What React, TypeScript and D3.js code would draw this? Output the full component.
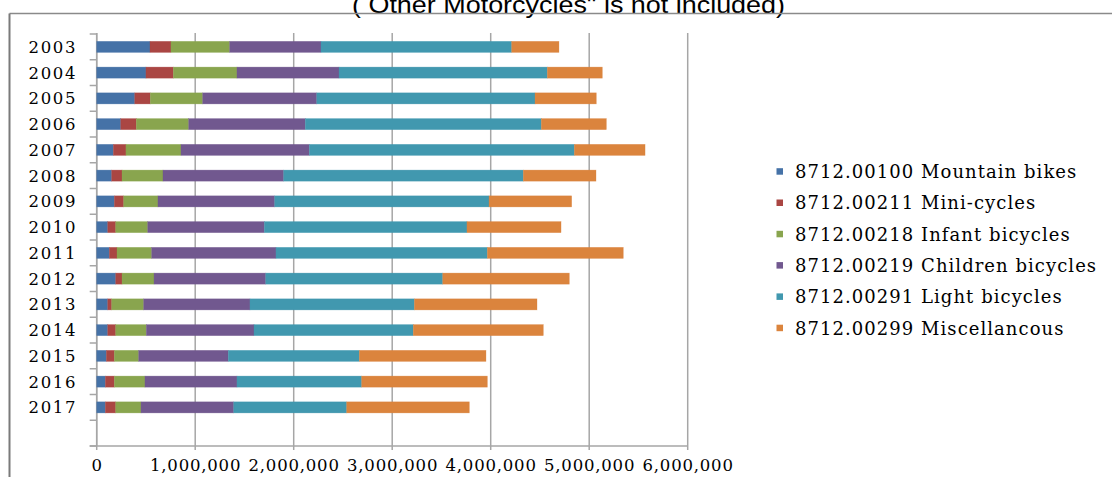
import React from "react";
import * as d3 from "d3";

const years = ["2003","2004","2005","2006","2007","2008","2009","2010","2011","2012","2013","2014","2015","2016","2017"];
const seriesNames = [
  "8712.00100 Mountain bikes",
  "8712.00211 Mini-cycles",
  "8712.00218 Infant bicycles",
  "8712.00219 Children bicycles",
  "8712.00291 Light bicycles",
  "8712.00299 Miscellancous",
];
const mountain = [541000,500000,386000,244000,169000,152000,179000,112000,128000,193000,112000,112000,98000,88000,88000];
const mini = [213000,278000,158000,158000,128000,105000,95000,81000,78000,64000,40000,81000,81000,91000,105000];
const infant = [596000,646000,532000,532000,559000,416000,348000,325000,352000,325000,325000,311000,247000,311000,257000];
const children = [927000,1036000,1158000,1184000,1303000,1225000,1185000,1184000,1262000,1134000,1079000,1093000,910000,934000,941000];
const light = [1936000,2115000,2216000,2396000,2690000,2433000,2176000,2057000,2146000,1797000,1669000,1617000,1330000,1266000,1147000];
const misc = [480000,558000,622000,660000,718000,738000,839000,955000,1380000,1285000,1245000,1320000,1286000,1276000,1245000];
const xTicks = [0,1000000,2000000,3000000,4000000,5000000,6000000];
const colors = ["#4572A7","#AA4643","#89A54E","#71588F","#4198AF","#DB843D"];
const title = "( Other Motorcycles\" is not included)";

const W = 1112, H = 477;
const plot = { left: 96.7, right: 687.7, top: 34, bottom: 446 };

export default function App() {
  const seriesData = [mountain, mini, infant, children, light, misc];
  const rows = years.map((y, i) => {
    const r: any = { year: y };
    seriesData.forEach((s, k) => (r["s" + k] = s[i]));
    return r;
  });
  const keys = seriesData.map((_, k) => "s" + k);
  const stacked = d3.stack().keys(keys)(rows);

  const x = d3.scaleLinear().domain([0, 6000000]).range([plot.left, plot.right]);
  const yDomain = [...years, "__blank"];
  const y = d3.scaleBand().domain(yDomain).range([plot.top, plot.bottom]).paddingInner(0.57).paddingOuter(0.285);
  const step = y.step();
  const fmt = d3.format(",");
  const serif = "'DejaVu Serif', serif";

  return (
    <svg width={W} height={H} style={{ position: "absolute", left: 0, top: 0, background: "#fff" }}>
      <rect x={0} y={0} width={W} height={H} fill="#fff" />
      <text x={352} y={12.5} textLength={433} lengthAdjust="spacingAndGlyphs" fontFamily="'Liberation Sans', Arial, sans-serif" fontSize={24} fill="#000">{title}</text>
      <line x1={9.5} x2={W} y1={13.5} y2={13.5} stroke="#8a8a8a" strokeWidth={1.5} />
      <line x1={9.5} x2={9.5} y1={13.5} y2={H} stroke="#7a7a7a" strokeWidth={2} />

      {xTicks.map((t) => (
        <line key={"g" + t} x1={x(t)} x2={x(t)} y1={33} y2={plot.bottom + 4} stroke="#a6a6a6" strokeWidth={1.5} />
      ))}
      <line x1={plot.left - 7} x2={plot.right} y1={plot.bottom} y2={plot.bottom} stroke="#a6a6a6" strokeWidth={1.5} />
      <line x1={plot.left} x2={plot.left} y1={33} y2={plot.bottom} stroke="#a6a6a6" strokeWidth={1.5} />
      {d3.range(yDomain.length + 1).map((i) => (
        <line key={"yt" + i} x1={plot.left - 7} x2={plot.left} y1={plot.top + i * step} y2={plot.top + i * step} stroke="#a6a6a6" strokeWidth={1.5} />
      ))}

      {stacked.map((layer, k) => (
        <g key={layer.key}>
          {layer.map((d: any, i: number) => (
            <rect key={i} x={x(d[0])} y={y(years[i])} width={x(d[1]) - x(d[0])} height={y.bandwidth()} fill={colors[k]} stroke={colors[k]} strokeOpacity={0.5} strokeWidth={0.6} />
          ))}
        </g>
      ))}

      {years.map((yr) => (
        <text key={yr} x={77} y={(y(yr) as number) + y.bandwidth() / 2} dy="0.36em" textAnchor="end" fontFamily={serif} fontSize={16.5} letterSpacing={1.6} fill="#000">{yr}</text>
      ))}

      {xTicks.map((t) => (
        <text key={"xl" + t} x={x(t) + 0.4} y={465.5} dy="0.36em" textAnchor="middle" fontFamily={serif} fontSize={16.5} letterSpacing={0.8} fill="#000">{fmt(t)}</text>
      ))}

      {seriesNames.map((n, k) => {
        const cy = 171.7 + k * 31.3;
        return (
          <g key={n}>
            <rect x={776.5} y={cy - 3.5} width={6.5} height={6.5} fill={colors[k]} />
            <text x={795} y={cy} dy="0.36em" fontFamily={serif} fontSize={18} letterSpacing={1.05} fill="#000">{n}</text>
          </g>
        );
      })}
    </svg>
  );
}
